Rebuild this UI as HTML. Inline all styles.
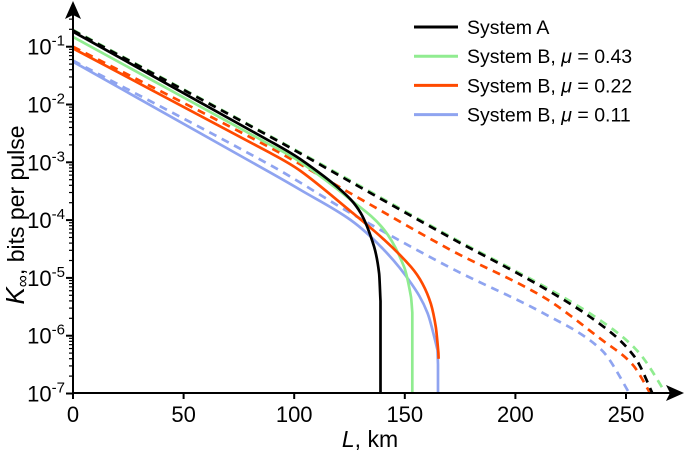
<!DOCTYPE html>
<html><head><meta charset="utf-8"><style>
body{margin:0;background:#fff}
svg{display:block;font-family:"Liberation Sans",sans-serif}
</style></head><body>
<svg id="chart" width="685" height="453" viewBox="0 0 685 453"></svg>
<script>
// Data: L in km, values as log10(K)
const blackSolidL = [0, 89.3, 102.9, 121, 130.1, 136.1, 138.4, 139, 139];
const blackSolidV = [-0.74, -2.64, -2.95, -3.48, -3.88, -4.46, -4.92, -5.4, -7];
const greenSolidL = [0, 89.3, 102.9, 125.6, 140.7, 149.7, 152.8, 153.4, 153.4];
const greenSolidV = [-0.83, -2.7, -3.0, -3.65, -4.17, -4.81, -5.33, -5.6, -7];
const orangeSolidL = [0, 89.3, 102.9, 125.6, 140.7, 152.8, 158, 161.8, 164, 165.2, 165.3];
const orangeSolidV = [-1.03, -2.84, -3.15, -3.85, -4.34, -4.81, -5.1, -5.45, -5.85, -6.3, -6.4];
const blueSolidL = [0, 89.3, 102.9, 125.6, 140.7, 152.8, 160.3, 164.8, 165, 165];
const blueSolidV = [-1.26, -3.18, -3.48, -4.0, -4.52, -5.09, -5.61, -6.25, -6.5, -7];
const blackDashL = [0, 89.3, 125.6, 170.9, 211.7, 239, 254, 262];
const blackDashV = [-0.72, -2.56, -3.34, -4.31, -5.15, -5.82, -6.37, -7];
const greenDashL = [0, 89.3, 125.6, 170.9, 211.7, 239, 256, 268];
const greenDashV = [-0.71, -2.55, -3.32, -4.29, -5.12, -5.75, -6.3, -7];
const orangeDashL = [0, 89.3, 125.6, 170.9, 212.6, 239, 253, 261];
const orangeDashV = [-1.0, -2.75, -3.54, -4.52, -5.33, -6.07, -6.5, -7];
const blueDashL = [0, 89.3, 125.6, 170.9, 212.6, 239, 251.6];
const blueDashV = [-1.24, -3.05, -3.88, -4.83, -5.61, -6.25, -7];
const xTicks = [0, 50, 100, 150, 200, 250];
const yTicks = [-1, -2, -3, -4, -5, -6, -7];
const legendLabels = ["System A", "System B, μ = 0.43", "System B, μ = 0.22", "System B, μ = 0.11"];

const NS = "http://www.w3.org/2000/svg";
const svg = document.getElementById('chart');
const X0 = 73, XS = 2.212, Y1 = 46.7, DEC = 57.8, AXY = 393;
const xs = L => X0 + L * XS;
const ys = v => Y1 + (-1 - v) * DEC;
function mk(tag, attrs, parent) { const e = document.createElementNS(NS, tag); for (const k in attrs) e.setAttribute(k, attrs[k]); (parent || svg).appendChild(e); return e; }
function smooth(pts) {
  let d = 'M' + pts[0][0].toFixed(1) + ' ' + pts[0][1].toFixed(1);
  for (let i = 0; i < pts.length - 1; i++) {
    const p0 = pts[i - 1] || pts[i], p1 = pts[i], p2 = pts[i + 1], p3 = pts[i + 2] || p2;
    if (Math.abs(p1[0] - p2[0]) < 1) { d += ' L' + p2[0].toFixed(1) + ' ' + p2[1].toFixed(1); continue; }
    const seg = p2[0] - p1[0];
    const s1 = (p2[1] - p0[1]) / Math.max(p2[0] - p0[0], 1e-6);
    const s2 = (p3[1] - p1[1]) / Math.max(p3[0] - p1[0], 1e-6);
    const vert = Math.abs(p3[0] - p2[0]) < 1;
    const c1 = [p1[0] + seg / 3, p1[1] + s1 * seg / 3];
    const c2 = vert ? [p2[0] - seg / 6, p2[1] - (p2[1] - p1[1]) / 6] : [p2[0] - seg / 3, p2[1] - s2 * seg / 3];
    d += ' C' + c1.map(v => v.toFixed(1)).join(' ') + ' ' + c2.map(v => v.toFixed(1)).join(' ') + ' ' + p2[0].toFixed(1) + ' ' + p2[1].toFixed(1);
  }
  return d;
}

const series = [
  [blueDashL, blueDashV, '#8fa4f0', true, 'series-b011-dashed'],
  [orangeDashL, orangeDashV, '#ff4a00', true, 'series-b022-dashed'],
  [greenDashL, greenDashV, '#90ec90', true, 'series-b043-dashed'],
  [blackDashL, blackDashV, '#000', true, 'series-a-dashed'],
  [blueSolidL, blueSolidV, '#8fa4f0', false, 'series-b011-solid'],
  [greenSolidL, greenSolidV, '#90ec90', false, 'series-b043-solid'],
  [orangeSolidL, orangeSolidV, '#ff4a00', false, 'series-b022-solid'],
  [blackSolidL, blackSolidV, '#000', false, 'series-a-solid'],
];
const g = mk('g', {});


series.forEach(s => {
  const pts = s[0].map((L, i) => [xs(L), ys(s[1][i])]);
  const p = mk('path', { d: smooth(pts), fill: 'none', stroke: s[2], 'stroke-width': 2.7, 'stroke-dasharray': s[3] ? '8 6' : 'none' }, g);
  
  
});

// axes
const ax = mk('g', { stroke: '#000', 'stroke-width': 2 });


mk('line', { x1: X0, y1: AXY, x2: 672, y2: AXY }, ax);
mk('line', { x1: X0, y1: AXY, x2: X0, y2: 14 }, ax);
mk('path', { d: 'M684 393 L666 385 L670 393 L666 401 Z', fill: '#000', stroke: 'none' }, ax);
mk('path', { d: 'M73 1 L65 19 L73 15 L81 19 Z', fill: '#000', stroke: 'none' }, ax);

xTicks.forEach(t => {
  mk('line', { x1: xs(t), y1: AXY, x2: xs(t), y2: AXY + 6 }, ax);
  const tx = mk('text', { x: xs(t), y: 422, 'font-size': 22, 'text-anchor': 'middle', fill: '#000' });
  tx.textContent = t;
  
  
});
yTicks.forEach(t => {
  const y = ys(t);
  mk('line', { x1: X0 - 7, y1: y, x2: X0, y2: y }, ax);
  for (let m = 2; m <= 9; m++) {
    const yy = ys(t + Math.log10(m));
    if (yy > 16) mk('line', { x1: X0 - 4, y1: yy, x2: X0, y2: yy, 'stroke-width': 1.2 }, ax);
  }
  const tx = mk('text', { x: 65, y: y + 8, 'font-size': 22, 'text-anchor': 'end', fill: '#000' });
  tx.innerHTML = '10<tspan dy="-9" font-size="15">' + t + '</tspan>';
  
  
});

const xl = mk('text', { x: 370, y: 447, 'font-size': 23, 'text-anchor': 'middle' });
xl.innerHTML = '<tspan font-style="italic">L</tspan>, km';


const yl = mk('text', { x: 0, y: 0, 'font-size': 23, 'text-anchor': 'middle', transform: 'translate(24,215) rotate(-90)' });
yl.innerHTML = '<tspan font-style="italic" font-size="26">K</tspan><tspan font-size="17" dy="4">∞</tspan><tspan dy="-4">, bits per pulse</tspan>';



// legend
const lg = mk('g', {});


const lc = ['#000', '#90ec90', '#ff4a00', '#8fa4f0'];
legendLabels.forEach((lab, i) => {
  const y = 27 + i * 29.2;
  const e = mk('g', {}, lg);
  
  
  mk('line', { x1: 414, y1: y, x2: 458, y2: y, stroke: lc[i], 'stroke-width': 3 }, e);
  const t = mk('text', { x: 467, y: y + 7, 'font-size': 19.5 }, e);
  t.innerHTML = lab.replace('μ', '<tspan font-style="italic">μ</tspan>');
});
</script>
</body></html>
